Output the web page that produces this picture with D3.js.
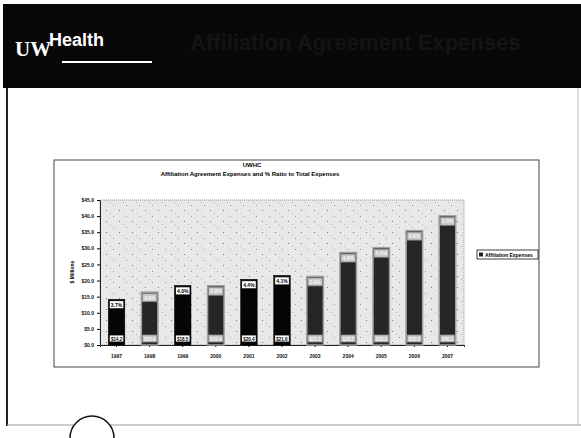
<!DOCTYPE html>
<html><head><meta charset="utf-8">
<script src="https://cdn.jsdelivr.net/npm/d3@7"></script>
<style>html,body{margin:0;padding:0;background:#fff;}svg{display:block;font-family:"Liberation Sans",Arial,sans-serif;}</style>
</head><body>
<script>
const years = ["1997","1998","1999","2000","2001","2002","2003","2004","2005","2006","2007"];
const expenses = [14.2, 16.4, 18.5, 18.4, 20.4, 21.6, 21.3, 28.7, 30.2, 35.5, 40.1];
const ratios = ["3.7%","3.8%","4.0%","3.9%","4.4%","4.1%","3.9%","4.6%","4.4%","4.8%","5.0%"];
const yTicks = [0,5,10,15,20,25,30,35,40,45];
const darkYears = ["1997","1999","2001","2002"];

const W=581,H=438;
const svg=d3.select("body").append("svg").attr("width",W).attr("height",H);

// slide header
svg.append("rect").attr("x",3).attr("y",4).attr("width",W-3).attr("height",84).attr("fill","#080808");
svg.append("text").attr("x",190).attr("y",50).attr("font-size",22).attr("font-weight","bold").attr("fill","#141414").text("Affiliation Agreement Expenses");
svg.append("text").attr("x",15).attr("y",56).attr("font-family","Liberation Serif,serif").attr("font-weight","bold").attr("font-size",21).attr("fill","#fff").text("UW");
svg.append("text").attr("x",49).attr("y",46).attr("font-weight","bold").attr("font-size",18).attr("fill","#fff").text("Health");
svg.append("rect").attr("x",62).attr("y",61).attr("width",90).attr("height",2).attr("fill","#fff");
// slide frame
svg.append("line").attr("x1",7).attr("x2",7).attr("y1",88).attr("y2",426).attr("stroke","#222").attr("stroke-width",2);
svg.append("line").attr("x1",7).attr("x2",W).attr("y1",425).attr("y2",425).attr("stroke","#999").attr("stroke-width",1);
svg.append("line").attr("x1",578).attr("x2",578).attr("y1",88).attr("y2",425).attr("stroke","#bbb").attr("stroke-width",1);
svg.append("path").attr("d","M70,438 A22,22 0 0 1 114,438").attr("fill","#fff").attr("stroke","#111").attr("stroke-width",1.5);

// chart area
svg.append("rect").attr("x",54).attr("y",160).attr("width",485).attr("height",207).attr("fill","#fff").attr("stroke","#444").attr("stroke-width",1);

const defs=svg.append("defs");
const pat=defs.append("pattern").attr("id","stip").attr("width",13).attr("height",11).attr("patternUnits","userSpaceOnUse");
pat.append("rect").attr("width",13).attr("height",11).attr("fill","#e8e8e8");
pat.append("rect").attr("x",2).attr("y",1).attr("width",1).attr("height",1).attr("fill","#777");
pat.append("rect").attr("x",9).attr("y",7).attr("width",1).attr("height",1).attr("fill","#999");
pat.append("rect").attr("x",6).attr("y",4).attr("width",1).attr("height",1).attr("fill","#bbb");

const m={l:100,r:464,t:200,b:345};
const x=d3.scaleBand().domain(years).range([m.l,m.r]).paddingInner(0.5).paddingOuter(0.25);
const y=d3.scaleLinear().domain([0,45]).range([m.b,m.t]);

svg.append("rect").attr("x",m.l).attr("y",m.t).attr("width",m.r-m.l).attr("height",m.b-m.t).attr("fill","url(#stip)").attr("stroke","#777").attr("stroke-dasharray","1,1").attr("stroke-width",0.8);

// titles
svg.append("text").attr("x",252).attr("y",167).attr("text-anchor","middle").attr("font-size",6).attr("font-weight","bold").text("UWHC");
svg.append("text").attr("x",250).attr("y",176).attr("text-anchor","middle").attr("font-size",6).attr("font-weight","bold").text("Affiliation Agreement Expenses and % Ratio to Total Expenses");

// axes
const ya=svg.append("g").attr("transform",`translate(${m.l},0)`).call(d3.axisLeft(y).tickValues(yTicks).tickSize(3).tickFormat(d=>"$"+d3.format(".1f")(d)));
ya.select(".domain").attr("stroke","#222");
ya.selectAll("text").attr("font-size",5).attr("font-weight","bold").attr("fill","#111");
const xa=svg.append("g").attr("transform",`translate(0,${m.b})`).call(d3.axisBottom(x).tickSize(2).tickPadding(7));
xa.select(".domain").attr("stroke","#222");
xa.selectAll("text").attr("font-size",5).attr("font-weight","bold").attr("fill","#111");
svg.append("text").attr("transform","translate(74,272) rotate(-90)").attr("text-anchor","middle").attr("font-size",5).attr("font-weight","bold").text("$ Millions");

// bars
const g=svg.append("g");
years.forEach((yr,i)=>{
  const dark=darkYears.includes(yr);
  const bx=x(yr), bw=x.bandwidth(), top=y(expenses[i]);
  g.append("rect").attr("x",bx).attr("y",top).attr("width",bw).attr("height",y(0)-top)
    .attr("fill",dark?"#050505":"#262626").attr("stroke",dark?"#000":"#a0a0a0").attr("stroke-width",dark?0.5:1.5);
  g.append("rect").attr("x",bx+1).attr("y",top+1.5).attr("width",bw-2).attr("height",8)
    .attr("fill",dark?"#fff":"#c8c8c8").attr("stroke",dark?"#000":"#888").attr("stroke-width",0.8);
  g.append("text").attr("x",bx+bw/2).attr("y",top+7.5).attr("text-anchor","middle").attr("font-size",5).attr("font-weight","bold").attr("fill",dark?"#000":"#f4f4f4").text(ratios[i]);
  g.append("rect").attr("x",bx+1).attr("y",y(0)-10).attr("width",bw-2).attr("height",7)
    .attr("fill",dark?"#fff":"#c8c8c8").attr("stroke",dark?"#000":"#888").attr("stroke-width",0.8);
  g.append("text").attr("x",bx+bw/2).attr("y",y(0)-4.5).attr("text-anchor","middle").attr("font-size",4.5).attr("font-weight","bold").attr("fill",dark?"#000":"#f4f4f4").text("$"+d3.format(".1f")(expenses[i]));
});

// legend
svg.append("rect").attr("x",477).attr("y",250).attr("width",61).attr("height",9).attr("fill","#fff").attr("stroke","#111").attr("stroke-width",0.8);
svg.append("rect").attr("x",479).attr("y",252.5).attr("width",4).attr("height",4).attr("fill","#222");
svg.append("text").attr("x",485).attr("y",257).attr("font-size",5).attr("font-weight","bold").text("Affiliation Expenses");
</script>
</body></html>
